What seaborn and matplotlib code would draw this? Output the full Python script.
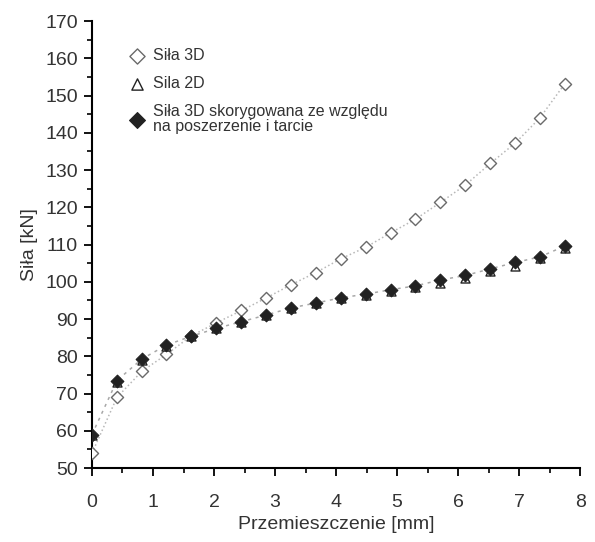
import matplotlib
matplotlib.use("Agg")
import matplotlib.pyplot as plt
import seaborn as sns
import pandas as pd
from matplotlib.ticker import MultipleLocator
from matplotlib.offsetbox import TextArea

# ---- data ----
displacement = [0.0, 0.41, 0.82, 1.22, 1.63, 2.04, 2.45, 2.86, 3.26, 3.67,
                4.08, 4.49, 4.90, 5.30, 5.71, 6.12, 6.53, 6.94, 7.34, 7.75]
force_3d = [54.0, 69.0, 76.0, 80.5, 85.5, 89.0, 92.3, 95.7, 99.2, 102.5,
            106.2, 109.3, 113.2, 116.8, 121.3, 126.0, 131.8, 137.3, 144.0, 153.2]
force_2d = [59.0, 73.2, 79.0, 82.8, 85.4, 87.5, 89.3, 91.0, 93.0, 94.3,
            95.6, 96.5, 97.6, 98.5, 99.8, 101.0, 102.8, 104.3, 106.5, 109.2]
force_corr = [59.0, 73.5, 79.3, 83.0, 85.4, 87.5, 89.3, 91.1, 93.0, 94.3,
              95.7, 96.7, 97.9, 98.9, 100.5, 101.7, 103.5, 105.2, 106.7, 109.6]

label_3d = "Siła 3D"
label_2d = "Sila 2D"
label_corr = "Siła 3D skorygowana ze względu\nna poszerzenie i tarcie"
x_label = "Przemieszczenie [mm]"
y_label = "Siła [kN]"

df = pd.DataFrame({"x": displacement, "f3d": force_3d, "f2d": force_2d, "fc": force_corr})

sns.set_style("white")
plt.rcParams["font.family"] = ["Liberation Sans", "DejaVu Sans"]
text_color = "#333333"

fig = plt.figure(figsize=(5.95, 5.42), dpi=100)
ax = fig.add_axes([0.1546, 0.1365, 0.8204, 0.8245])

# dotted trend lines
sns.lineplot(data=df, x="x", y="f3d", ax=ax, color="#b8b8b8", lw=1.1,
             linestyle=":", label="_nolegend_", zorder=1)
sns.lineplot(data=df, x="x", y="fc", ax=ax, color="#a8a8a8", lw=1.1,
             linestyle=(0, (2, 3)), label="_nolegend_", zorder=1)

# markers
sns.scatterplot(data=df, x="x", y="f3d", ax=ax, marker="D", s=38,
                facecolor="white", edgecolor="#6a6a6a", linewidth=1.0,
                label=label_3d, zorder=3)
sns.scatterplot(data=df, x="x", y="f2d", ax=ax, marker="^", s=42,
                facecolor="white", edgecolor="#222222", linewidth=1.0,
                label=label_2d, zorder=4)
sns.scatterplot(data=df, x="x", y="fc", ax=ax, marker="D", s=42,
                color="#222222", edgecolor="#222222", linewidth=0.8,
                label=label_corr, zorder=5)

ax.set_xlim(0, 8)
ax.set_ylim(50, 170)
ax.xaxis.set_major_locator(MultipleLocator(1))
ax.xaxis.set_minor_locator(MultipleLocator(0.5))
ax.yaxis.set_major_locator(MultipleLocator(10))
ax.yaxis.set_minor_locator(MultipleLocator(5))

for s in ["top", "right"]:
    ax.spines[s].set_visible(False)
for s in ["left", "bottom"]:
    ax.spines[s].set_color("black")
    ax.spines[s].set_linewidth(1.5)

ax.tick_params(axis="both", which="major", direction="out", length=6, width=1.3,
               color="black", labelsize=14, labelcolor=text_color,
               bottom=True, left=True)
ax.tick_params(axis="y", which="major", pad=4)
ax.tick_params(axis="x", which="major", pad=13)
ax.tick_params(axis="both", which="minor", direction="out", length=3.5, width=1.2,
               color="black", bottom=True, left=True)

ax.set_xlabel(x_label, fontsize=14, color=text_color, labelpad=3)
ax.set_ylabel(y_label, fontsize=14, color=text_color, labelpad=5)

leg = ax.legend(loc="upper left", bbox_to_anchor=(0.056, 0.954), frameon=False,
                fontsize=11.5, labelcolor=text_color, handletextpad=0.28,
                handlelength=1.4, labelspacing=0.8, markerscale=1.25,
                borderaxespad=0)
leg.get_texts()[2].set_linespacing(1.0)
# align handle with the first line of multi-line labels
try:
    for col in leg._legend_handle_box.get_children():
        for row in col.get_children():
            for c in row.get_children():
                if isinstance(c, TextArea):
                    c.set_multilinebaseline(True)
except Exception:
    pass

fig.savefig("out.png", dpi=100, facecolor="white")
